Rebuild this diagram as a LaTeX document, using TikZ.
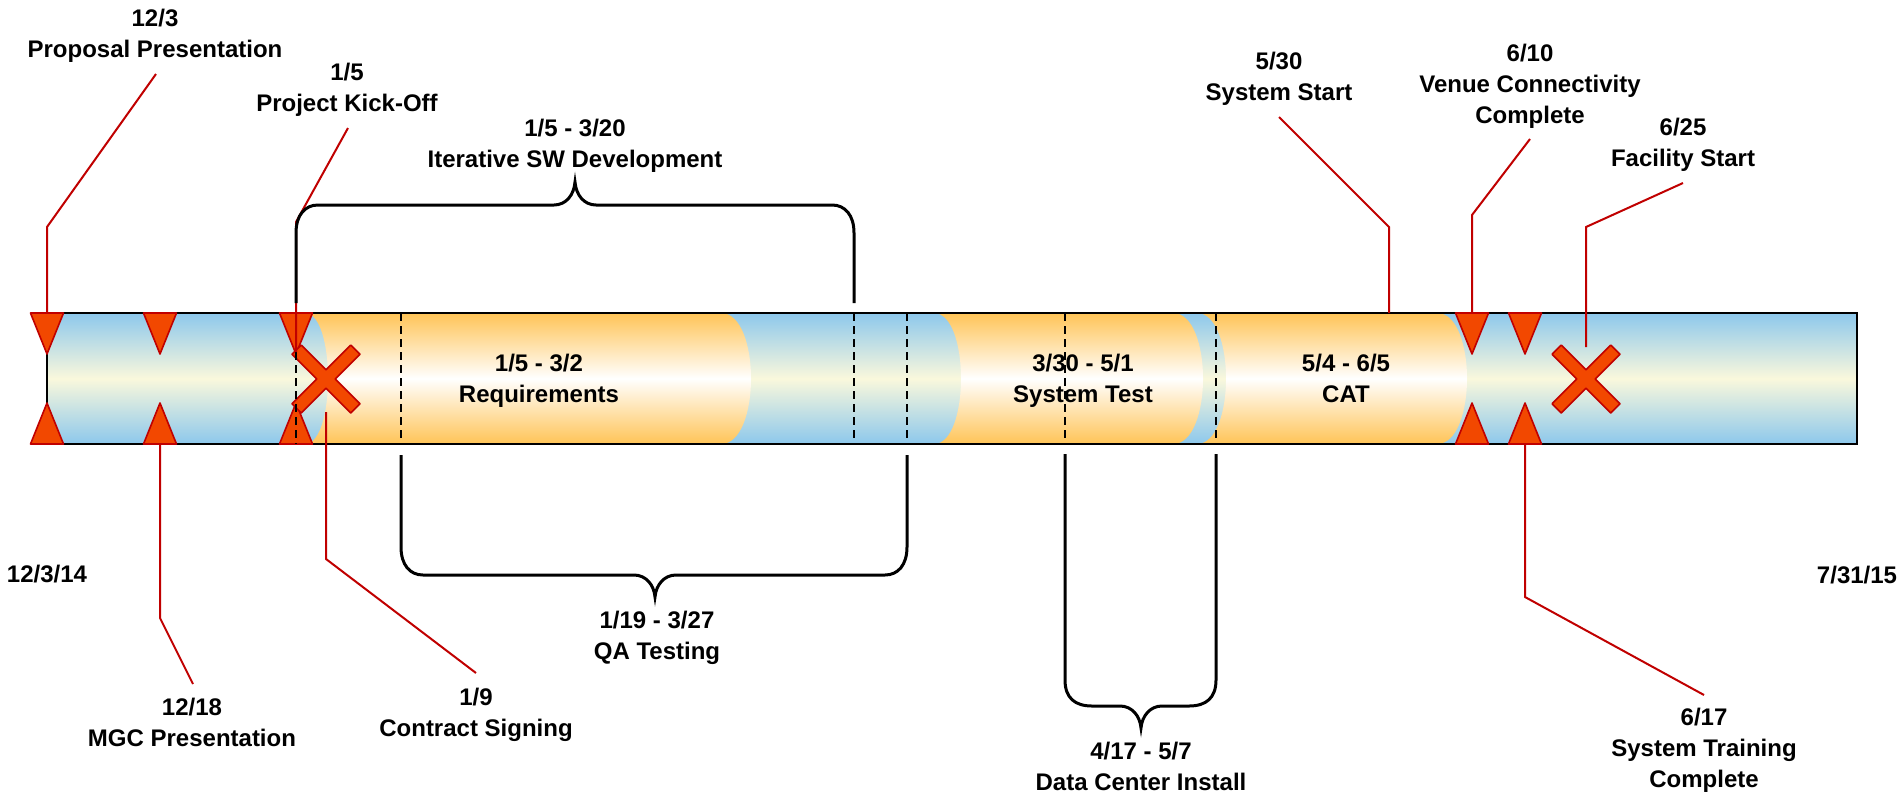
\documentclass[tikz,border=0pt]{standalone}
\usepackage{fontspec}
\setmainfont{Liberation Sans}
\definecolor{blueT}{HTML}{8DC8EC}
\definecolor{paleY}{HTML}{FAF8DC}
\definecolor{oraT}{HTML}{FFC457}
\definecolor{mkfill}{HTML}{F24800}
\definecolor{mkline}{HTML}{C00000}
\newcommand\myhgt{\rule{0pt}{10pt}}
\begin{document}
\begin{tikzpicture}[x=0.5pt,y=-0.5pt,
  lbl/.style={font=\bfseries\fontsize{12pt}{15.5pt}\selectfont, align=center, inner sep=0pt, anchor=north},
  callout/.style={draw=mkline, line width=1pt},
  brace/.style={draw=black, line width=1.5pt},
  dashline/.style={draw=black, line width=1pt, dash pattern=on 4pt off 2.5pt},
  mk/.style={fill=mkfill, draw=mkline, line width=0.8pt, line join=round},
  bluefill/.style={top color=blueT, bottom color=blueT, middle color=paleY},
  orafill/.style={top color=oraT, bottom color=oraT, middle color=white},
  hg/.pic={\path[mk] (-16.5,313) -- (16.5,313) -- (0,354) -- cycle;
           \path[mk] (-16.5,444) -- (16.5,444) -- (0,403) -- cycle;},
  xm/.pic={\path[mk,rotate=45] (6.5,6.5) -- (41.5,6.5) -- (41.5,-6.5) -- (6.5,-6.5) -- (6.5,-41.5) -- (-6.5,-41.5) -- (-6.5,-6.5) -- (-41.5,-6.5) -- (-41.5,6.5) -- (-6.5,6.5) -- (-6.5,41.5) -- (6.5,41.5) -- cycle;}
]
\useasboundingbox (0,0) rectangle (1899,794);

% bar
\path[bluefill] (47,313) rectangle (1857,444);
\path[orafill] (305,313) -- (721,313) .. controls (761,313) and (761,444) .. (721,444) -- (305,444) .. controls (335.7,444) and (335.7,313) .. (305,313) -- cycle;
\path[orafill] (934,313) -- (1173,313) .. controls (1213,313) and (1213,444) .. (1173,444) -- (934,444) .. controls (970,444) and (970,313) .. (934,313) -- cycle;
\path[orafill] (1197,313) -- (1437,313) .. controls (1477,313) and (1477,444) .. (1437,444) -- (1197,444) .. controls (1235.7,444) and (1235.7,313) .. (1197,313) -- cycle;
\draw[line width=1.1pt] (47,313) rectangle (1857,444);

% milestones
\pic at (47,0) {hg};
\pic at (160,0) {hg};
\pic at (296,0) {hg};
\pic at (1472,0) {hg};
\pic at (1525,0) {hg};
\pic at (326,379) {xm};
\pic at (1586,379) {xm};

% dashed lines
\foreach \xx in {296,401,854,907,1065,1216}
  \draw[dashline] (\xx,313) -- (\xx,444);

% callout points
\coordinate (a1) at (47,313);   \coordinate (b1) at (47,227);   \coordinate (c1) at (156,74);
\coordinate (a2) at (160,444);  \coordinate (b2) at (160,618);  \coordinate (c2) at (193,684);
\coordinate (a3) at (296,352);  \coordinate (b3) at (296,222);  \coordinate (c3) at (348,128);
\coordinate (a4) at (326,412);  \coordinate (b4) at (326,559);  \coordinate (c4) at (476,673);
\coordinate (a5) at (1389,313); \coordinate (b5) at (1389,227); \coordinate (c5) at (1279,117);
\coordinate (a6) at (1472,313); \coordinate (b6) at (1472,215); \coordinate (c6) at (1530,139);
\coordinate (a7) at (1586,347); \coordinate (b7) at (1586,227); \coordinate (c7) at (1683,183);
\coordinate (a8) at (1525,444); \coordinate (b8) at (1525,597); \coordinate (c8) at (1704,695);
\foreach \i in {1,...,8}
  \draw[callout] (a\i) -- (b\i) -- (c\i);

% brackets
\draw[brace] (296,303) -- (296,233) .. controls (296,215) and (305,205) .. (318,205) -- (554,205)
  .. controls (566,205) and (574,195) .. (575,182) .. controls (576,195) and (584,205) .. (596,205)
  -- (832,205) .. controls (845,205) and (854,215) .. (854,233) -- (854,303);
\draw[brace] (401,455) -- (401,547) .. controls (401,565) and (410,575) .. (423,575) -- (634,575)
  .. controls (646,575) and (654,585) .. (655,597) .. controls (656,585) and (664,575) .. (676,575)
  -- (885,575) .. controls (898,575) and (907,565) .. (907,547) -- (907,455);
\draw[brace] (1065,454) -- (1065,680) .. controls (1065,698) and (1075,706) .. (1092,706) -- (1120,706)
  .. controls (1132,706) and (1140,716) .. (1141,728) .. controls (1142,716) and (1150,706) .. (1162,706)
  -- (1189,706) .. controls (1206,706) and (1216,698) .. (1216,680) -- (1216,454);

% labels
\node[lbl] (l1) at (155,6.5) {\myhgt 12/3\\Proposal Presentation};
\node[lbl] (l2) at (347,60.5) {\myhgt 1/5\\Project Kick-Off};
\node[lbl] (l3) at (575,116.5) {\myhgt 1/5 - 3/20\\Iterative SW Development};
\node[lbl] (l4) at (1279,49.5) {\myhgt 5/30\\System Start};
\node[lbl] (l5) at (1530,41.5) {\myhgt 6/10\\Venue Connectivity\\Complete};
\node[lbl] (l6) at (1683,115.5) {\myhgt 6/25\\Facility Start};
\node[lbl] (l7) at (539,351.5) {\myhgt 1/5 - 3/2\\Requirements};
\node[lbl] (l8) at (1083,351.5) {\myhgt 3/30 - 5/1\\System Test};
\node[lbl] (l9) at (1346,351.5) {\myhgt 5/4 - 6/5\\CAT};
\node[lbl] (l10) at (47,562.5) {\myhgt 12/3/14};
\node[lbl] (l11) at (1857,563.5) {\myhgt 7/31/15};
\node[lbl] (l12) at (657,608.5) {\myhgt 1/19 - 3/27\\QA Testing};
\node[lbl] (l13) at (192,695.5) {\myhgt 12/18\\MGC Presentation};
\node[lbl] (l14) at (476,685.5) {\myhgt 1/9\\Contract Signing};
\node[lbl] (l15) at (1141,739.5) {\myhgt 4/17 - 5/7\\Data Center Install};
\node[lbl] (l16) at (1704,705.5) {\myhgt 6/17\\System Training\\Complete};
\end{tikzpicture}
\end{document}
